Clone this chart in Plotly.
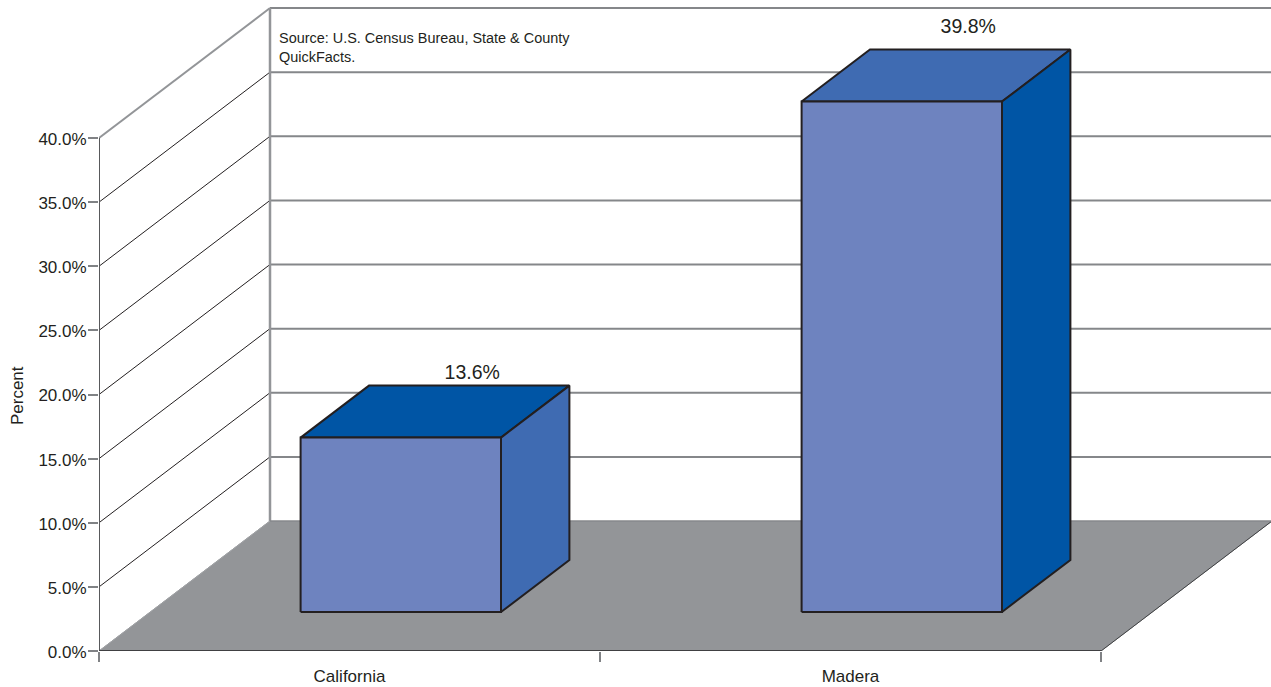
import plotly.graph_objects as go

categories = ["California", "Madera"]
percent_values = [13.6, 39.8]
value_labels = ["13.6%", "39.8%"]
y_ticks = [0, 5, 10, 15, 20, 25, 30, 35, 40]
y_tick_labels = ["0.0%", "5.0%", "10.0%", "15.0%", "20.0%", "25.0%", "30.0%", "35.0%", "40.0%"]

FONT = "Liberation Sans, Arial, sans-serif"
INK = "#231f20"
GREY = "#939598"
WALL = "#85878a"
FRONT = "#6e83bf"
DARKB = "#0055a5"
MIDB = "#3f6bb2"
top_colors = [DARKB, MIDB]
side_colors = [MIDB, DARKB]
label_nudge_x = [0.006, -0.004]
label_nudge_y = [0.156, 0.92]

# oblique projection: depth z in 0..1 shifts a point right and up
DEPTH_X = 171 / 501
DEPTH_Y = 130 / 12.825
XMAX = 2
YMAX = 40
BAR_W = 0.4
Z0, Z1 = 0.3, 0.7


def proj(x, y, z):
    return x + z * DEPTH_X, y + z * DEPTH_Y


def path(points):
    pts = [proj(*p) for p in points]
    return [p[0] for p in pts], [p[1] for p in pts]


fig = go.Figure()


def line(points, color, width):
    xs, ys = path(points)
    fig.add_trace(go.Scatter(x=xs, y=ys, mode="lines", line=dict(color=color, width=width),
                             hoverinfo="skip", showlegend=False, cliponaxis=False))


def poly(points, fill, edge, width=2):
    xs, ys = path(points)
    fig.add_trace(go.Scatter(x=xs, y=ys, mode="lines", fill="toself", fillcolor=fill,
                             line=dict(color=edge, width=width, shape="linear"),
                             hoverinfo="skip", showlegend=False, cliponaxis=False))


# back wall horizontal lines and side wall oblique lines
for t in y_ticks[1:]:
    line([(0, t, 1), (XMAX, t, 1)], WALL, 2)
    line([(0, t, 0), (0, t, 1)], GREY if t == YMAX else INK, 2 if t == YMAX else 1)
line([(0, 0, 1), (0, YMAX, 1)], GREY, 2.5)

# floor
poly([(0, 0, 0), (XMAX, 0, 0), (XMAX, 0, 1), (0, 0, 1), (0, 0, 0)], GREY, GREY, 1)
line([(XMAX, 0, 0), (XMAX, 0, 1)], "#3f4042", 1)
line([(0, 0, 0), (0, 0, 1)], "#a0a2a5", 1)
line([(0, 0, 1), (XMAX, 0, 1)], "#808285", 1)

# value axis line and category axis line
line([(0, 0, 0), (0, YMAX, 0)], "#58595b", 2)
line([(0, 0, 0), (XMAX, 0, 0)], "#404042", 2)

# bars
for i, v in enumerate(percent_values):
    x0 = i + 0.5 - BAR_W / 2
    x1 = i + 0.5 + BAR_W / 2
    poly([(x0, v, Z0), (x1, v, Z0), (x1, v, Z1), (x0, v, Z1), (x0, v, Z0)], top_colors[i], INK)
    poly([(x1, 0, Z0), (x1, 0, Z1), (x1, v, Z1), (x1, v, Z0), (x1, 0, Z0)], side_colors[i], INK)
    poly([(x0, 0, Z0), (x1, 0, Z0), (x1, v, Z0), (x0, v, Z0), (x0, 0, Z0)], FRONT, INK)

# value labels
lx, ly = [], []
for i, v in enumerate(percent_values):
    px, py = proj(i + 0.5, v, Z1)
    lx.append(px + label_nudge_x[i])
    ly.append(py + label_nudge_y[i])
fig.add_trace(go.Scatter(x=lx, y=ly, mode="text", text=value_labels, textposition="top center",
                         textfont=dict(family=FONT, size=19.5, color=INK),
                         hoverinfo="skip", showlegend=False, cliponaxis=False))

fig.add_annotation(x=0.355, y=47.08, xref="x", yref="y", xanchor="left", yanchor="middle",
                   align="left", showarrow=False,
                   text="Source: U.S. Census Bureau, State &amp; County<br>QuickFacts.",
                   font=dict(family=FONT, size=14.45, color=INK))
fig.add_annotation(x=0, xshift=-82, y=19.88, xref="paper", yref="y", xanchor="center", yanchor="middle",
                   textangle=-90, showarrow=False, text="Percent",
                   font=dict(family=FONT, size=17, color=INK))

fig.update_layout(
    width=1271, height=687, margin=dict(l=99, r=0, t=1, b=36),
    paper_bgcolor="white", plot_bgcolor="white", showlegend=False,
    xaxis=dict(range=[0, 1172 / 501], showgrid=False, zeroline=False, showline=False,
               tickmode="array", tickvals=[0.5, 1.5], ticktext=categories,
               ticks="outside", ticklen=0, ticklabelstandoff=10,
               tickfont=dict(family=FONT, size=17, color=INK),
               minor=dict(tickmode="array", tickvals=[0, 1, 2], ticks="outside", ticklen=10,
                          tickcolor="#808285", tickwidth=1.5, showgrid=False)),
    yaxis=dict(range=[0, 650 / 12.825], showgrid=False, zeroline=False, showline=False,
               tickmode="array", tickvals=y_ticks, ticktext=y_tick_labels,
               ticks="outside", ticklen=10, tickcolor="#808285", tickwidth=1.5,
               ticklabelstandoff=-2, ticklabelshift=1,
               tickfont=dict(family=FONT, size=17, color=INK)),
)

fig.write_html("out.html", config=dict(displayModeBar=False),
               post_script="document.body.style.margin='0';document.body.style.overflow='hidden';")
